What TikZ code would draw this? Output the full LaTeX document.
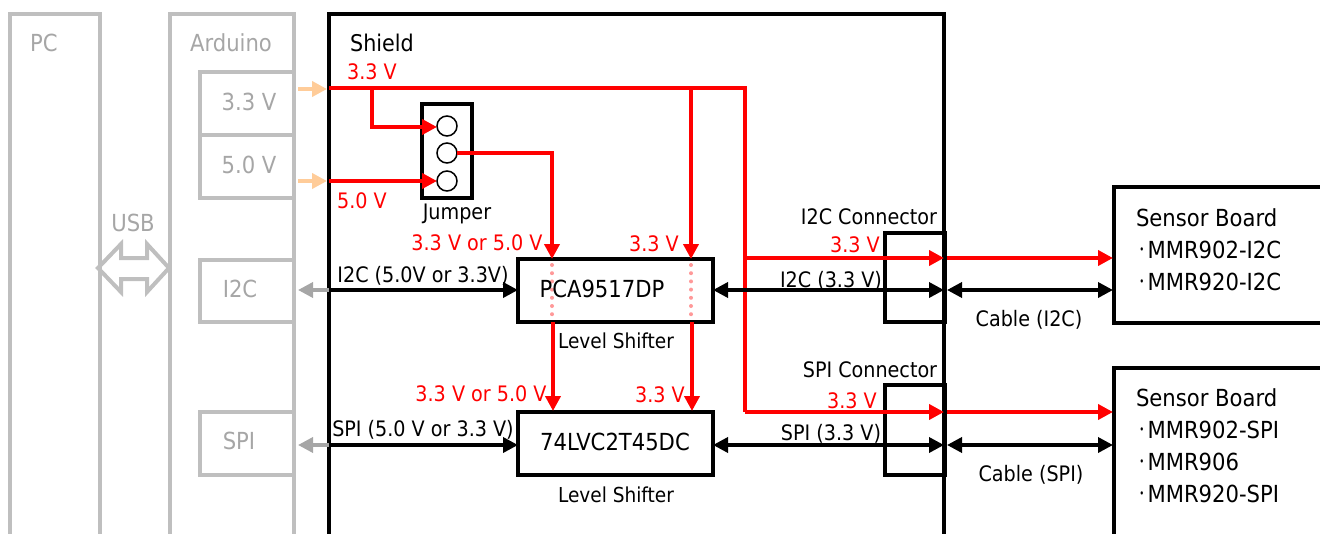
\documentclass[tikz,border=0pt]{standalone}
\usepackage{fontspec}
\setmainfont{DejaVu Sans Condensed}
\newfontfamily\cjk[FakeStretch=0.72]{Noto Sans CJK JP}
\newcommand{\bul}{\raisebox{2.8pt}{\cjk\fontsize{16}{16}\selectfont ・}}
\usetikzlibrary{arrows.meta,calc}
\definecolor{grayline}{HTML}{BFBFBF}
\definecolor{graytext}{HTML}{A6A6A6}
\definecolor{grayarrow}{HTML}{A6A6A6}
\definecolor{orangearrow}{HTML}{FFCC99}
\definecolor{pinkdot}{HTML}{FF9999}
\tikzset{
  x=1pt,y=-1pt,
  graybox/.style={draw=grayline,line width=4pt,minimum width=#1,inner sep=0pt,outer sep=0pt},
  blackbox/.style={draw=black,line width=4pt,inner sep=0pt,outer sep=0pt},
  lbl/.style={inner sep=0pt,outer sep=0pt,font=\fontsize{21.3}{25}\selectfont},
  blbl/.style={lbl,text=black},
  rlbl/.style={lbl,text=red},
  glbl/.style={lbl,text=graytext,font=\fontsize{23.5}{28}\selectfont},
  pw/.style={draw=red,line width=4pt,-{Triangle[length=15pt,width=15pt,fill=red]}},
  pwl/.style={draw=red,line width=4pt},
  sig/.style={draw=black,line width=3.5pt,{Triangle[length=15pt,width=15pt]}-{Triangle[length=15pt,width=15pt]}},
  sigr/.style={draw=black,line width=3.5pt,-{Triangle[length=15pt,width=15pt]}},
  gsig/.style={draw=grayarrow,line width=3.5pt,-{Triangle[length=15pt,width=15pt]}},
  osig/.style={draw=orangearrow,line width=4pt,-{Triangle[length=15pt,width=15pt]}},
  dots/.style={draw=pinkdot,line width=4pt,line cap=round,dash pattern=on 0pt off 8.2pt},
  sblbl/.style={blbl,font=\fontsize{23.5}{28}\selectfont,anchor=west},
  lslbl/.style={blbl,font=\fontsize{20.6}{25}\selectfont},
}
\begin{document}
\begin{tikzpicture}
\useasboundingbox (0,0) rectangle (1320,533);
\clip (0,0) rectangle (1320,533);
% gray
\node[graybox=90pt,minimum height=560pt,anchor=north west] (pc) at (10,14) {};
\node[graybox=124pt,minimum height=560pt,anchor=north west] (arduino) at (170,14) {};
\node[graybox=94pt,minimum height=63pt,anchor=north west] (a33) at (200,72) {};
\node[graybox=94pt,minimum height=63pt,anchor=north west] (a50) at (200,135) {};
\node[graybox=94pt,minimum height=62pt,anchor=north west] (ai2c) at (200,260) {};
\node[graybox=94pt,minimum height=63pt,anchor=north west] (aspi) at (200,412) {};
\node[glbl] (tpc) at (44,43) {PC};
\node[glbl] (tard) at (231,43) {Arduino};
\node[glbl] (t33) at (249,102) {3.3 V};
\node[glbl] (t50) at (249,165) {5.0 V};
\node[glbl] (ti2c) at (240,289) {I2C};
\node[glbl] (tspi) at (239,441) {SPI};
\node[glbl] (tusb) at (133,223) {USB};
\draw[draw=grayline,line width=4pt,miter limit=10] (98,268) -- (121,244) -- (121,258) -- (147,258) -- (147,244) -- (169,268) -- (147,292) -- (147,279) -- (121,279) -- (121,292) -- cycle;
% black boxes
\node[blackbox,minimum width=615pt,minimum height=560pt,anchor=north west] (shield) at (329,14) {};
\node[blackbox,minimum width=50pt,minimum height=94pt,anchor=north west] (jumper) at (422,104) {};
\node[blackbox,minimum width=60pt,minimum height=89pt,anchor=north west] (ci2c) at (885,233) {};
\node[blackbox,minimum width=60pt,minimum height=90pt,anchor=north west] (cspi) at (885,385) {};
\node[blackbox,minimum width=300pt,minimum height=136pt,anchor=north west] (sb1) at (1114,187) {};
\node[blackbox,minimum width=300pt,minimum height=300pt,anchor=north west] (sb2) at (1114,368) {};
\node[blackbox,minimum width=195pt,minimum height=63pt,anchor=north west,fill=white] (pca) at (518,259) {};
\node[blackbox,minimum width=195pt,minimum height=63pt,anchor=north west,fill=white] (lvc) at (518,412) {};
\node[circle,draw=black,line width=1.5pt,minimum size=20pt,inner sep=0pt,outer sep=0pt] (p1) at (447,126) {};
\node[circle,draw=black,line width=1.5pt,minimum size=20pt,inner sep=0pt,outer sep=0pt] (p2) at (447,153) {};
\node[circle,draw=black,line width=1.5pt,minimum size=20pt,inner sep=0pt,outer sep=0pt] (p3) at (447,181) {};
% coordinates
\coordinate (in33) at (329,88);
\coordinate (in50) at (329,181);
\coordinate (g33) at (298,89);
\coordinate (g50) at (298,181);
\coordinate (o33) at (327,89);
\coordinate (o50) at (327,181);
\coordinate (j1) at (372,88);
\coordinate (j1b) at (372,127);
\coordinate (j2) at (691,88);
\coordinate (j3) at (745,88);
\coordinate (j4) at (745,258);
\coordinate (j5) at (745,412);
\coordinate (pcaL) at (552,259);
\coordinate (pcaR) at (691,259);
\coordinate (pcaLb) at (553,322);
\coordinate (pcaRb) at (692,322);
\coordinate (lvcL) at (553,411);
\coordinate (lvcR) at (692,411);
\coordinate (d1a) at (552,265);
\coordinate (d1b) at (552,318);
\coordinate (d2a) at (691,265);
\coordinate (d2b) at (691,318);
\coordinate (c1r) at (944,258);
\coordinate (c2r) at (944,412);
\coordinate (s1r) at (947,258);
\coordinate (s2r) at (947,412);
\coordinate (s1re) at (1113,258);
\coordinate (s2re) at (1113,412);
\coordinate (jm) at (552,153);
% red
\draw[pwl] (in33) -- (j3) -- (j5);
\draw[pw] (j5) -- (c2r);
\draw[pw] (j4) -- (c1r);
\draw[pw] (j2) -- (pcaR);
\draw[pw] (j1) -- (j1b) -- (p1.west |- j1b);
\draw[pw] (in50) -- (p3.west);
\draw[pw] (p2.east) -- (jm) -- (pcaL);
\draw[pw] (pcaLb) -- (lvcL);
\draw[pw] (pcaRb) -- (lvcR);
\draw[pw] (s1r) -- (s1re);
\draw[pw] (s2r) -- (s2re);
\draw[dots] (d1a) -- (d1b);
\draw[dots] (d2a) -- (d2b);
% orange, gray
\draw[osig] (g33) -- (o33);
\draw[osig] (g50) -- (o50);
\coordinate (bi2c) at (329,290);
\coordinate (bspi) at (329,445);
\coordinate (gi2c) at (298,290);
\coordinate (gspi) at (298,445);
\draw[gsig] (bi2c) -- (gi2c);
\draw[gsig] (bspi) -- (gspi);
\draw[sigr] (bi2c) -- (bi2c -| pca.west);
\draw[sigr] (bspi) -- (bspi -| lvc.west);
% black
\coordinate (pr) at (713,290);
\coordinate (cr1) at (944,290);
\coordinate (lr) at (713,445);
\coordinate (cr2) at (944,445);
\coordinate (s3) at (947,290);
\coordinate (s3e) at (1113,290);
\coordinate (s4) at (947,445);
\coordinate (s4e) at (1113,445);
\draw[sig] (pr) -- (cr1);
\draw[sig] (lr) -- (cr2);
\draw[sig] (s3) -- (s3e);
\draw[sig] (s4) -- (s4e);
% text
\node[blbl,font=\fontsize{23}{28}\selectfont] (tshield) at (382,43) {Shield};
\node[rlbl] (r1) at (372,72) {3.3 V};
\node[rlbl] (r2) at (362,201) {5.0 V};
\node[blbl] (tj) at (457,214) {Jumper};
\node[rlbl] (r3) at (477,243) {3.3 V or 5.0 V};
\node[rlbl] (r4) at (654,244) {3.3 V};
\node[rlbl] (r5) at (481,394) {3.3 V or 5.0 V};
\node[rlbl] (r6) at (660,395) {3.3 V};
\node[rlbl] (r7) at (855,245) {3.3 V};
\node[rlbl] (r8) at (852,401) {3.3 V};
\node[blbl] (t1) at (423,276) {I2C (5.0V or 3.3V)};
\node[blbl] (t2) at (423,430) {SPI (5.0 V or 3.3 V)};
\node[blbl] (t3) at (831,281) {I2C (3.3 V)};
\node[blbl] (t4) at (831,434) {SPI (3.3 V)};
\node[blbl] (t5) at (869,217) {I2C Connector};
\node[blbl] (t6) at (870,370) {SPI Connector};
\node[blbl] (t7) at (1029,320) {Cable (I2C)};
\node[blbl] (t8) at (1031,475) {Cable (SPI)};
\node[lslbl] (t9) at (616,341) {Level Shifter};
\node[lslbl] (t10) at (616,495) {Level Shifter};
\node[blbl,font=\fontsize{23.5}{28}\selectfont] (tp) at (602,289) {PCA9517DP};
\node[blbl,font=\fontsize{23.5}{28}\selectfont] (tl) at (615,442) {74LVC2T45DC};
\node[sblbl] (s1) at (1136,218) {Sensor Board};
\node[sblbl] (s2) at (1136,250) {\bul MMR902-I2C};
\node[sblbl] (s3t) at (1136,282) {\bul MMR920-I2C};
\node[sblbl] (s4t) at (1136,398) {Sensor Board};
\node[sblbl] (s5) at (1136,430) {\bul MMR902-SPI};
\node[sblbl] (s6) at (1136,462) {\bul MMR906};
\node[sblbl] (s7) at (1136,494) {\bul MMR920-SPI};
\end{tikzpicture}
\end{document}
